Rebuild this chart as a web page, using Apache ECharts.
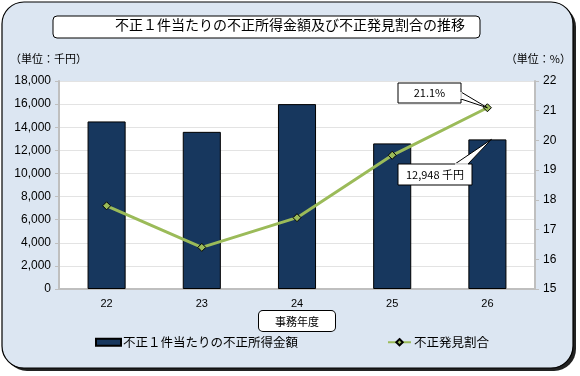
<!DOCTYPE html>
<html>
<head>
<meta charset="utf-8">
<script src="https://cdn.jsdelivr.net/npm/echarts@6/dist/echarts.min.js"></script>
<style>
  html, body { margin: 0; padding: 0; background: #fff; }
  #chart { width: 580px; height: 376px; }
</style>
</head>
<body>
<div id="chart"></div>
<script>
// 事務年度
var years = ['22', '23', '24', '25', '26'];
// 不正１件当たりの不正所得金額（千円）
var amountValues = [14500, 13600, 16000, 12600, 12948];
// 不正発見割合（%）
var rateValues = [17.8, 16.4, 17.4, 19.5, 21.1];
var leftTicks = { min: 0, max: 18000, interval: 2000 };
var rightTicks = { min: 15, max: 22, interval: 1 };

var font = '"Noto Sans CJK JP", sans-serif';
var numFont = '"Liberation Sans", Arial, sans-serif';

var myChart = echarts.init(document.getElementById('chart'));

var option = {
    animation: false,
    backgroundColor: '#fff',
    graphic: [
        {
            type: 'rect', z: -10,
            shape: { x: 5, y: 5, width: 571, height: 366, r: 22 },
            style: { fill: '#222' }
        },
        {
            type: 'rect', z: -9,
            shape: { x: 2, y: 2, width: 571, height: 366, r: 22 },
            style: { fill: '#dce6f2', stroke: '#000', lineWidth: 1.2 }
        },
        {
            type: 'rect', z: 5,
            shape: { x: 53, y: 16, width: 427, height: 22, r: 4 },
            style: { fill: '#fff', stroke: '#000', lineWidth: 1 }
        },
        {
            type: 'text', z: 6, left: 'center', top: 18,
            style: { text: '不正１件当たりの不正所得金額及び不正発見割合の推移', font: '14px ' + font, fill: '#000' }
        },
        {
            type: 'text', z: 6, left: 10, top: 53,
            style: { text: '（単位：千円）', font: '11px ' + font, fill: '#000' }
        },
        {
            type: 'text', z: 6, right: 9, top: 53,
            style: { text: '（単位：%）', font: '11px ' + font, fill: '#000' }
        }
    ],
    grid: { left: 59, right: 45, top: 81, bottom: 87, backgroundColor: '#fff', show: true, borderWidth: 0 },
    legend: [
        {
            data: [{ name: '不正１件当たりの不正所得金額', icon: 'rect' }],
            left: 95, top: 336, padding: 0, itemWidth: 25, itemHeight: 7, itemGap: 4,
            textStyle: { fontFamily: font, fontSize: 12.5, color: '#000', padding: [0, 0, 0, -3] }
        },
        {
            data: ['不正発見割合'],
            left: 387, top: 336, padding: 0, itemWidth: 23, itemHeight: 8,
            textStyle: { fontFamily: font, fontSize: 12.5, color: '#000', padding: [0, 0, 0, -2] }
        }
    ],
    xAxis: {
        type: 'category',
        data: years,
        name: '事務年度',
        nameLocation: 'middle',
        nameGap: 22,
        nameMoveOverlap: false,
        nameTextStyle: {
            fontFamily: font, fontSize: 11, color: '#000',
            backgroundColor: '#fff', borderColor: '#000', borderWidth: 1, borderRadius: 4,
            padding: [5, 16, 4, 16]
        },
        axisLine: { lineStyle: { color: '#bfbfbf', width: 2 } },
        axisTick: { lineStyle: { color: '#bfbfbf' }, length: 4 },
        axisLabel: { fontFamily: numFont, fontSize: 11, color: '#000', margin: 9 }
    },
    yAxis: [
        {
            type: 'value',
            min: leftTicks.min, max: leftTicks.max, interval: leftTicks.interval,
            axisLine: { show: true, lineStyle: { color: '#bfbfbf', width: 2 } },
            axisTick: { show: true, length: 4, lineStyle: { color: '#bfbfbf' } },
            splitLine: { lineStyle: { color: '#e3e3e3' } },
            axisLabel: {
                fontFamily: numFont, fontSize: 12, color: '#000', margin: 8,
                formatter: function (v) { return v.toLocaleString('en-US'); }
            }
        },
        {
            type: 'value',
            min: rightTicks.min, max: rightTicks.max, interval: rightTicks.interval,
            axisLine: { show: true, lineStyle: { color: '#bfbfbf', width: 2 } },
            axisTick: { show: true, length: 4, lineStyle: { color: '#bfbfbf' } },
            splitLine: { show: false },
            axisLabel: { fontFamily: numFont, fontSize: 12, color: '#000', margin: 8 }
        }
    ],
    series: [
        {
            name: '不正１件当たりの不正所得金額',
            type: 'bar',
            data: amountValues,
            barWidth: '40%',
            itemStyle: { color: '#17375e', borderColor: '#000', borderWidth: 1 }
        },
        {
            name: '不正発見割合',
            type: 'line',
            yAxisIndex: 1,
            data: rateValues,
            symbol: 'diamond',
            symbolSize: 8,
            lineStyle: { color: '#9bbb59', width: 3 },
            itemStyle: { color: '#9bbb59', borderColor: '#000', borderWidth: 1 },
            z: 10
        }
    ]
};
myChart.setOption(option);

// 吹き出し（最終年度の値）
var last = years.length - 1;
var pRate = myChart.convertToPixel({ xAxisIndex: 0, yAxisIndex: 1 }, [last, rateValues[last]]);
var pAmt = myChart.convertToPixel({ xAxisIndex: 0, yAxisIndex: 0 }, [last, amountValues[last]]);

function callout(box, tip, baseA, baseB, text) {
    return [
        {
            type: 'polygon', z: 20,
            shape: { points: [baseA, tip, baseB] },
            style: { fill: '#fff', stroke: '#000', lineWidth: 1 }
        },
        {
            type: 'rect', z: 21,
            shape: box,
            style: { fill: '#fff', stroke: '#000', lineWidth: 1 }
        },
        {
            type: 'line', z: 22,
            shape: { x1: baseA[0], y1: baseA[1], x2: baseB[0], y2: baseB[1] },
            style: { stroke: '#fff', lineWidth: 1.5 }
        },
        {
            type: 'text', z: 23,
            x: box.x + box.width / 2, y: box.y + box.height / 2,
            style: { text: text, font: '11px ' + font, fill: '#000', align: 'center', verticalAlign: 'middle' }
        }
    ];
}

var rateText = rateValues[last].toFixed(1) + '%';
var amtText = amountValues[last].toLocaleString('en-US') + ' 千円';
var extra = []
    .concat(callout({ x: 398, y: 83, width: 63, height: 20 }, pRate, [461, 92], [461, 99], rateText))
    .concat(callout({ x: 398, y: 164, width: 74, height: 21 }, [pAmt[0] + 4, pAmt[1]], [455, 164], [468, 164], amtText));

myChart.setOption({ graphic: option.graphic.concat(extra) });
</script>
</body>
</html>
